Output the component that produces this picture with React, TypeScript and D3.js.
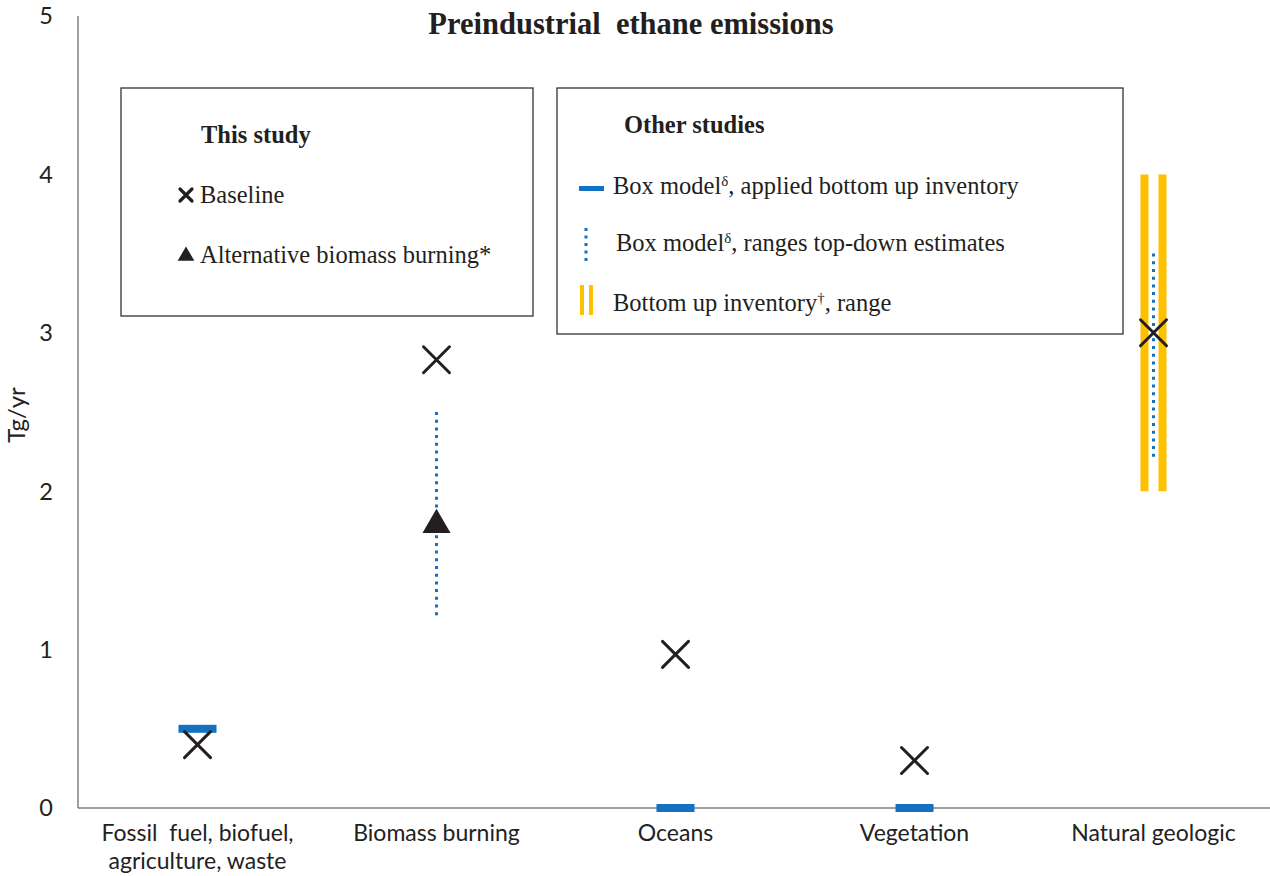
import * as d3 from "d3";

const categories = [
  "Fossil fuel",
  "Biomass burning",
  "Oceans",
  "Vegetation",
  "Natural geologic",
];
const categoryLabels = [
  ["Fossil  fuel, biofuel,", "agriculture, waste"],
  ["Biomass burning"],
  ["Oceans"],
  ["Vegetation"],
  ["Natural geologic"],
];
const baseline = [0.4, 2.83, 0.97, 0.3, 3.0];
const boxModelBottomUp = [0.5, null, 0, 0, null];
const altBiomass = [null, 1.8, null, null, null];
const topDownLow = [null, 1.2, null, null, 2.2];
const topDownHigh = [null, 2.5, null, null, 3.5];
const inventoryLow = [null, null, null, null, 2];
const inventoryHigh = [null, null, null, null, 4];
const yTicks = [0, 1, 2, 3, 4, 5];

const W = 1270;
const H = 876;
const BLUE = "#1470c0";
const GOLD = "#ffc000";
const INK = "#231f20";
const SANS = "Lato, 'Open Sans', sans-serif";
const SERIF = "'Liberation Serif', 'Times New Roman', serif";
const LEG = 24.5;

function Cross({ x, y, r = 13, w = 3 }: { x: number; y: number; r?: number; w?: number }) {
  return (
    <path
      d={`M${x - r},${y - r}L${x + r},${y + r}M${x - r},${y + r}L${x + r},${y - r}`}
      stroke={INK}
      strokeWidth={w}
      strokeLinecap="round"
      fill="none"
    />
  );
}

export default function App() {
  const x = d3.scaleBand<string>().domain(categories).range([78, 1273]).padding(0);
  const y = d3.scaleLinear().domain([0, 5]).range([808, 16]);
  const cx = (i: number) => x(categories[i])! + x.bandwidth() / 2;
  const tri = d3.symbol().type(d3.symbolTriangle).size(340)()!;
  const triSmall = d3.symbol().type(d3.symbolTriangle).size(120)()!;

  return (
    <svg
      width={W}
      height={H}
      style={{ position: "absolute", left: 0, top: 0, display: "block", background: "#fff" }}
    >
      {/* axes */}
      <line x1={78} x2={78} y1={y(5)} y2={y(0)} stroke="#7f7f7f" strokeWidth={1.5} />
      <line x1={78} x2={1270} y1={y(0)} y2={y(0)} stroke="#7f7f7f" strokeWidth={1.5} />
      {yTicks.map((t) => (
        <text
          key={t}
          x={53}
          y={y(t)}
          dy="0.36em"
          textAnchor="end"
          fontFamily={SANS}
          fontSize={23.5}
          fill="#222"
        >
          {t}
        </text>
      ))}
      <text
        transform={`translate(25,${(y(0) + y(5)) / 2 + 3}) rotate(-90)`}
        textAnchor="middle"
        fontFamily={SANS}
        fontSize={24}
        fill="#222"
      >
        Tg/yr
      </text>
      {categoryLabels.map((lines, i) =>
        lines.map((l, j) => (
          <text
            key={`${i}-${j}`}
            x={cx(i)}
            y={841 + j * 28}
            textAnchor="middle"
            fontFamily={SANS}
            fontSize={23}
            fill="#222"
            style={{ whiteSpace: "pre" }}
          >
            {l}
          </text>
        ))
      )}

      {/* title */}
      <text
        x={631}
        y={34}
        textAnchor="middle"
        fontFamily={SERIF}
        fontWeight="bold"
        fontSize={30.5}
        fill={INK}
        style={{ whiteSpace: "pre" }}
      >
        {"Preindustrial  ethane emissions"}
      </text>

      {/* bottom-up inventory range */}
      {inventoryLow.map((lo, i) =>
        lo == null ? null : (
          <g key={`inv${i}`}>
            {[-9, 9].map((o) => (
              <line
                key={o}
                x1={cx(i) + o}
                x2={cx(i) + o}
                y1={y(lo)}
                y2={y(inventoryHigh[i]!)}
                stroke={GOLD}
                strokeWidth={8}
              />
            ))}
          </g>
        )
      )}

      {/* top-down ranges */}
      {topDownLow.map((lo, i) =>
        lo == null ? null : (
          <line
            key={`td${i}`}
            x1={cx(i)}
            x2={cx(i)}
            y1={y(topDownHigh[i]!)}
            y2={y(lo)}
            stroke={BLUE}
            strokeWidth={3}
            strokeDasharray="3,4.7"
          />
        )
      )}

      {/* box model bottom-up */}
      {boxModelBottomUp.map((v, i) =>
        v == null ? null : (
          <rect key={`bm${i}`} x={cx(i) - 19} y={y(v) - 4} width={38} height={8} fill={BLUE} />
        )
      )}

      {/* alternative biomass */}
      {altBiomass.map((v, i) =>
        v == null ? null : (
          <path key={`alt${i}`} d={tri} transform={`translate(${cx(i)},${y(v) + 2})`} fill={INK} />
        )
      )}

      {/* baseline */}
      {baseline.map((v, i) => (
        <Cross key={`b${i}`} x={cx(i)} y={y(v)} />
      ))}

      {/* legend: this study */}
      <rect x={121} y={88} width={412} height={228} fill="#fff" stroke="#333" strokeWidth={1.3} />
      <text x={201} y={143} fontFamily={SERIF} fontWeight="bold" fontSize={LEG} fill={INK}>
        This study
      </text>
      <Cross x={186} y={195} r={6} w={3.2} />
      <text x={200} y={203} fontFamily={SERIF} fontSize={LEG} fill={INK}>
        Baseline
      </text>
      <path d={triSmall} transform="translate(186,256)" fill={INK} />
      <text x={200} y={263} fontFamily={SERIF} fontSize={LEG} fill={INK}>
        Alternative biomass burning*
      </text>

      {/* legend: other studies */}
      <rect x={557} y={88} width={566} height={246} fill="#fff" stroke="#333" strokeWidth={1.3} />
      <text x={624} y={133} fontFamily={SERIF} fontWeight="bold" fontSize={LEG} fill={INK}>
        Other studies
      </text>
      <rect x={579} y={186} width={25} height={5} fill={BLUE} />
      <text x={613} y={194} fontFamily={SERIF} fontSize={LEG} fill={INK}>
        Box model<tspan dy={-8} fontSize={15}>δ</tspan>
        <tspan dy={8}>, applied bottom up inventory</tspan>
      </text>
      <line x1={586} x2={586} y1={228} y2={262} stroke={BLUE} strokeWidth={3} strokeDasharray="3,4.5" />
      <text x={616} y={251} fontFamily={SERIF} fontSize={LEG} fill={INK}>
        Box model<tspan dy={-8} fontSize={15}>δ</tspan>
        <tspan dy={8}>, ranges top-down estimates</tspan>
      </text>
      <line x1={582} x2={582} y1={285} y2={315} stroke={GOLD} strokeWidth={4} />
      <line x1={591} x2={591} y1={285} y2={315} stroke={GOLD} strokeWidth={4} />
      <text x={613} y={311} fontFamily={SERIF} fontSize={LEG} fill={INK}>
        Bottom up inventory<tspan dy={-8} fontSize={15}>†</tspan>
        <tspan dy={8}>, range</tspan>
      </text>
    </svg>
  );
}
